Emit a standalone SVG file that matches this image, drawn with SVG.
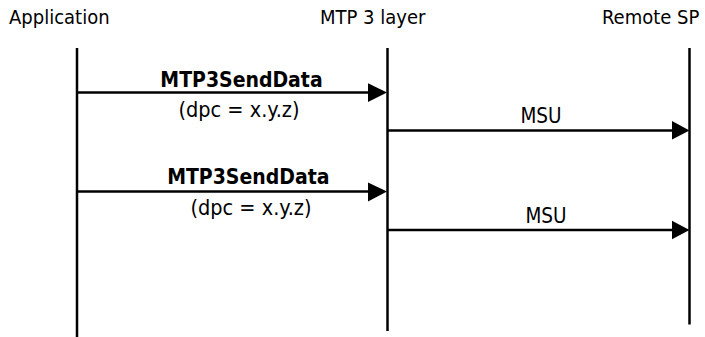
<svg xmlns="http://www.w3.org/2000/svg" width="705" height="337" viewBox="0 0 705 337">
<style>
text{font-family:"DejaVu Sans Condensed","DejaVu Sans",sans-serif;font-size:20px;fill:#000;font-stretch:condensed}
.b{font-weight:bold;font-size:21px}
.p{font-size:21.5px}
.s{font-size:20.5px}
.m{text-anchor:middle}
.life{stroke:#000;stroke-width:2.5;fill:none}
.msg{stroke:#000;stroke-width:2.7;fill:none}
.head{fill:#000;stroke:none}
</style>
<rect width="705" height="337" fill="#fff"/>
<g id="application">
<text x="9" y="24">Application</text>
<line class="life" x1="77" y1="48" x2="77" y2="337"/>
</g>
<g id="mtp3">
<text x="320" y="24">MTP 3 layer</text>
<line class="life" x1="387.5" y1="48" x2="387.5" y2="331"/>
</g>
<g id="remote">
<text x="602" y="24">Remote SP</text>
<line class="life" x1="689.5" y1="48" x2="689.5" y2="324.5"/>
</g>
<g id="connectors">
<line class="msg" x1="77" y1="92.5" x2="370" y2="92.5"/>
<polygon class="head" points="368,83.3 387,92.5 368,102"/>
<text class="m b" x="241.5" y="86.5">MTP3SendData</text>
<text class="m p" x="239" y="116.5">(dpc = x.y.z)</text>

<line class="msg" x1="387.5" y1="130.5" x2="674" y2="130.5"/>
<polygon class="head" points="672,121 689.5,130.5 672,139.5"/>
<text class="m s" x="541" y="123">MSU</text>

<line class="msg" x1="77" y1="191.5" x2="370" y2="191.5"/>
<polygon class="head" points="368,182.5 387,191.5 368,201.5"/>
<text class="m b" x="248.3" y="184">MTP3SendData</text>
<text class="m p" x="251" y="215">(dpc = x.y.z)</text>

<line class="msg" x1="387.5" y1="230" x2="674" y2="230"/>
<polygon class="head" points="672,220.7 689.5,230 672,239.3"/>
<text class="m s" x="546" y="222.5">MSU</text>
</g>
</svg>
